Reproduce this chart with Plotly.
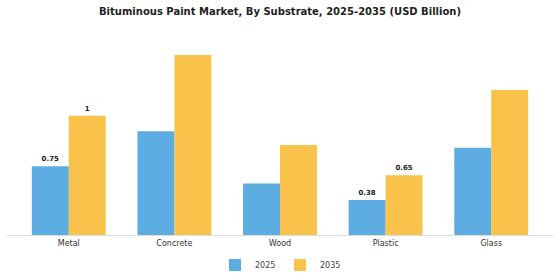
import plotly.graph_objects as go

categories = ["Metal", "Concrete", "Wood", "Plastic", "Glass"]
years = ["2025", "2035"]
values_2025 = [0.75, 1.13, 0.56, 0.38, 0.95]
values_2035 = [1.30, 1.96, 0.98, 0.65, 1.58]
labels_2025 = ["0.75", "", "", "0.38", ""]
labels_2035 = ["1", "", "", "0.65", ""]

colors = ["#5DADE2", "#F8C24B"]
font = "DejaVu Sans"

fig = go.Figure()
for name, vals, labs, col in [(years[0], values_2025, labels_2025, colors[0]),
                              (years[1], values_2035, labels_2035, colors[1])]:
    fig.add_trace(go.Bar(
        x=categories, y=vals, name=name, marker=dict(color=col, line=dict(width=0)),
        text=labs, textposition="outside", cliponaxis=False,
        textfont=dict(family=font, size=7, color="#222222", weight="bold"),
    ))

fig.update_layout(
    width=560, height=280,
    margin=dict(l=7, r=7, t=33, b=45, autoexpand=False),
    paper_bgcolor="white", plot_bgcolor="white",
    barmode="group", bargap=0.3, bargroupgap=0,
    title=dict(text="<b>Bituminous Paint Market, By Substrate, 2025-2035 (USD Billion)</b>",
               x=0.5, xanchor="center", y=0.96, yanchor="middle",
               font=dict(family=font, size=10, color="#222222")),
    legend=dict(orientation="h", x=0.5, xanchor="center",
                yref="container", y=0.054, yanchor="middle",
                font=dict(family=font, size=8, color="#444444"),
                itemwidth=30, entrywidth=20, entrywidthmode="pixels",
                traceorder="normal"),
    showlegend=True,
)
fig.update_xaxes(range=[-0.585, 4.585], showline=True, linecolor="#dddddd", linewidth=1,
                 ticks="", tickfont=dict(family=font, size=8, color="#333333"),
                 showgrid=False)
fig.update_yaxes(range=[0, 2.2], visible=False, showgrid=False, zeroline=False)

fig.write_html("out.html")
